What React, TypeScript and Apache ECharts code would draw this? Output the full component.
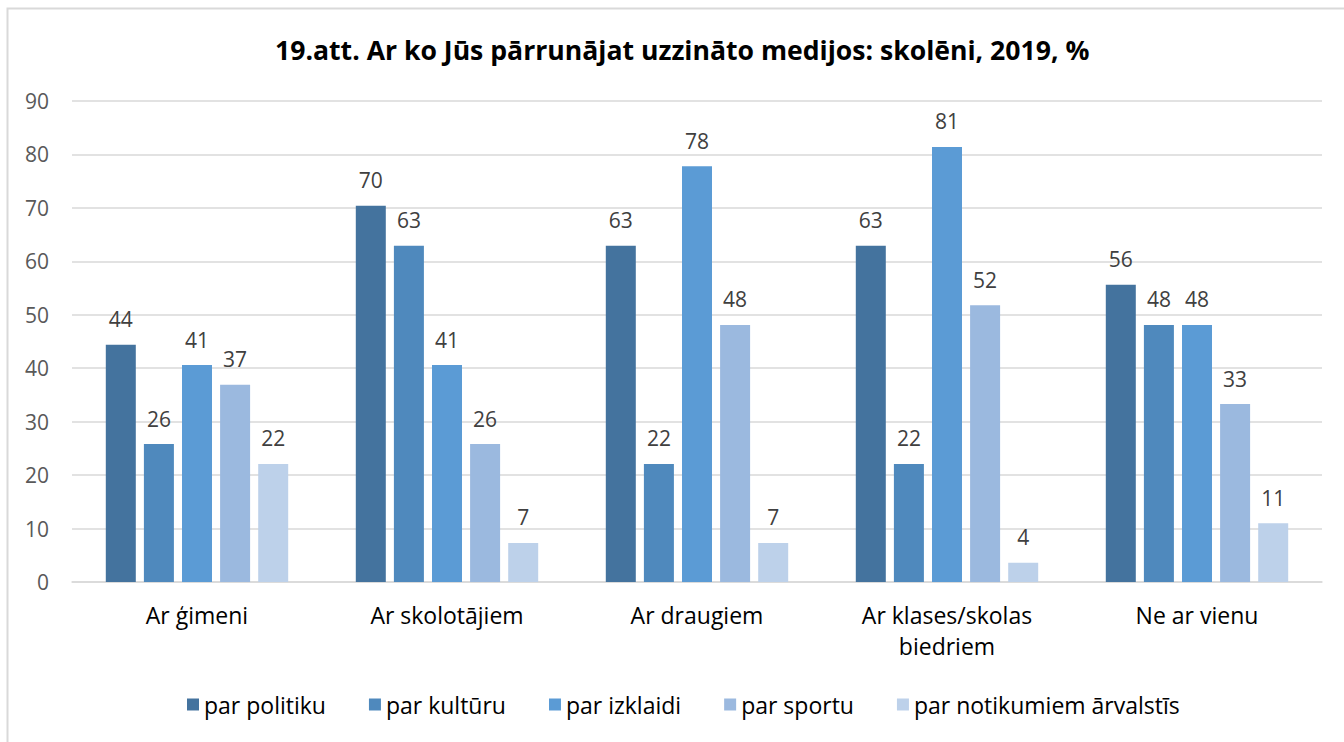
import React, { useEffect, useRef } from "react";
import * as echarts from "echarts";

const title = "19.att. Ar ko Jūs pārrunājat uzzināto medijos: skolēni, 2019, %";
const categories = ["Ar ģimeni", "Ar skolotājiem", "Ar draugiem", "Ar klases/skolas\nbiedriem", "Ne ar vienu"];
const seriesNames = ["par politiku", "par kultūru", "par izklaidi", "par sportu", "par notikumiem ārvalstīs"];
const politiku = [44.4, 70.4, 62.9, 62.9, 55.6];
const kulturu = [25.8, 62.9, 22.1, 22.1, 48.1];
const izklaidi = [40.6, 40.6, 77.8, 81.4, 48.1];
const sportu = [36.9, 25.8, 48.1, 51.8, 33.3];
const arvalstis = [22.1, 7.3, 7.3, 3.6, 11.0];
const seriesData = [politiku, kulturu, izklaidi, sportu, arvalstis];
const colors = ["#44739e", "#4f89bd", "#5b9bd5", "#9bb9df", "#bdd1ea"];
const yTicks = { min: 0, max: 90, interval: 10 };

const FONT = "'Open Sans', 'Noto Sans', sans-serif";

export default function App() {
  const ref = useRef<HTMLDivElement>(null);
  useEffect(() => {
    if (!ref.current) return;
    const chart = echarts.init(ref.current, undefined, { renderer: "svg" });
    chart.setOption({
      animation: false,
      backgroundColor: "#ffffff",
      textStyle: { fontFamily: FONT },
      title: {
        text: title,
        left: 270,
        top: 31,
        textStyle: { fontFamily: FONT, fontSize: 26.6, fontWeight: "bold", color: "#000000" },
      },
      graphic: [
        {
          type: "rect",
          shape: { x: 7.5, y: 8.5, width: 1400, height: 800 },
          style: { fill: "none", stroke: "#d9d9d9", lineWidth: 2 },
          silent: true,
        },
      ],
      legend: {
        bottom: 21,
        left: 182,
        itemWidth: 12,
        itemHeight: 12,
        itemGap: 43,
        icon: "rect",
        textStyle: { fontFamily: FONT, fontSize: 23, color: "#000000", padding: [0, 0, 0, 0] },
        data: seriesNames,
      },
      grid: { left: 72, right: 22, top: 101, bottom: 160, containLabel: false },
      xAxis: {
        type: "category",
        data: categories,
        axisTick: { show: false },
        axisLine: { lineStyle: { color: "#d9d9d9", width: 1.5 } },
        axisLabel: { fontFamily: FONT, fontSize: 23, color: "#000000", margin: 17, lineHeight: 31 },
      },
      yAxis: {
        type: "value",
        min: yTicks.min,
        max: yTicks.max,
        interval: yTicks.interval,
        axisLine: { show: false },
        axisTick: { show: false },
        splitLine: { lineStyle: { color: "#d9d9d9", width: 1.5 } },
        axisLabel: { fontFamily: FONT, fontSize: 21, color: "#595959", margin: 23 },
      },
      series: seriesNames.map((name, i) => ({
        name,
        type: "bar",
        data: seriesData[i],
        barWidth: 30,
        barGap: "27%",
        itemStyle: { color: colors[i] },
        label: {
          show: true,
          position: "top",
          distance: 15,
          fontFamily: FONT,
          fontSize: 21,
          color: "#404040",
          formatter: (p: any) => String(Math.round(p.value)),
        },
      })),
    });
    return () => chart.dispose();
  }, []);
  return (
    <div
      ref={ref}
      style={{ position: "absolute", left: 0, top: 0, width: 1344, height: 742 }}
    />
  );
}
